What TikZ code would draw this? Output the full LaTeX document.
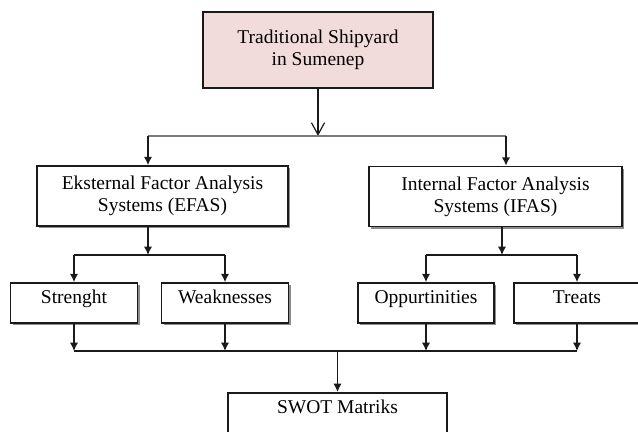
\documentclass[tikz,border=0pt]{standalone}
\usepackage{fontspec}
\setmainfont{Liberation Serif}
\usetikzlibrary{arrows.meta, positioning, shadows}
\definecolor{Blush}{HTML}{F2DCDB}
\definecolor{Ink}{HTML}{1A1A1A}
\definecolor{Rule}{HTML}{7A7A7A}
\tikzset{
  basebox/.style={rectangle, draw=Ink, line width=0.8pt, inner sep=0pt,
                  font=\fontsize{9.75}{11}\selectfont, align=center, text=black},
  shadebox/.style={basebox, fill=white, minimum width=#1, minimum height=20pt,
                   text height=7pt, text depth=6pt,
                   drop shadow={shadow xshift=1.2pt, shadow yshift=-1.2pt,
                                fill=black!45, opacity=1}},
  sysbox/.style={shadebox=#1, minimum height=30pt, text height=, text depth=},
}

\begin{document}
\begin{tikzpicture}[
        x=0.5pt, y=-0.5pt,
        arr/.style={-{Latex[length=4.2pt, width=4.2pt]}, line width=0.75pt, color=Ink},
        openarr/.style={-{Straight Barb[length=6pt, width=6.5pt]}, line width=0.6pt, color=Ink},
        busline/.style={line width=0.75pt, color=Ink},
        greybus/.style={line width=1pt, color=Rule}
      ]
        \useasboundingbox (0,0) rectangle (638,432);
        \clip (0,0) rectangle (638,432);
        \node[basebox, fill=Blush, minimum width=115pt, minimum height=38pt] (yard) at (318,50)
          {Traditional Shipyard\\in Sumenep};
        \node[sysbox=125.5pt] (efas) at (162.5,196)
          {Eksternal Factor Analysis\\Systems (EFAS)};
        \node[sysbox=126.5pt] (ifas) at (495.5,196.5)
          {Internal Factor Analysis\\Systems (IFAS)};
        \node[shadebox=63.5pt] (strength) at (74,303) {Strenght};
        \node[shadebox=63.5pt] (weak) at (225,303) {Weaknesses};
        \node[shadebox=68pt] (opp) at (426,303) {Oppurtinities};
        \node[shadebox=63pt] (treat) at (577,303) {Treats};
        \node[basebox, fill=white, minimum width=109.5pt, text height=10.5pt, text depth=30pt,
              anchor=north] (swot) at (337.5,392) {SWOT Matriks};
        % split points
        \coordinate (tl) at (148,136);
        \coordinate (tr) at (506,136);
        \coordinate (el) at (74,255);
        \coordinate (er) at (225,255);
        \coordinate (il) at (426,255);
        \coordinate (ir) at (577,255);
        \coordinate (bl) at (74,351);
        \coordinate (br) at (577,351);
        % top level
        \draw[openarr] (yard.south) -- (yard.south |- tl);
        \draw[greybus] (tl) -- (tr);
        \draw[arr] (tl) -- (tl |- efas.north);
        \draw[arr] (tr) -- (tr |- ifas.north);
        % EFAS branch
        \draw[arr] (efas.south -| tl) -- (tl |- el);
        \draw[busline] (el) -- (er);
        \draw[arr] (el) -- (strength.north);
        \draw[arr] (er) -- (weak.north);
        % IFAS branch
        \draw[arr] ([xshift=3.25pt]ifas.south) -- ([xshift=3.25pt]ifas.south |- il);
        \draw[busline] (il) -- (ir);
        \draw[arr] (il) -- (opp.north);
        \draw[arr] (ir) -- (treat.north);
        % into the matrix
        \draw[arr] (strength.south) -- (bl);
        \draw[arr] (weak.south) -- (weak.south |- bl);
        \draw[arr] (opp.south) -- (opp.south |- bl);
        \draw[arr] (treat.south) -- (br);
        \draw[busline] (bl) -- (br);
        \draw[arr] (swot.north |- bl) -- (swot.north);
      \end{tikzpicture}
\end{document}
